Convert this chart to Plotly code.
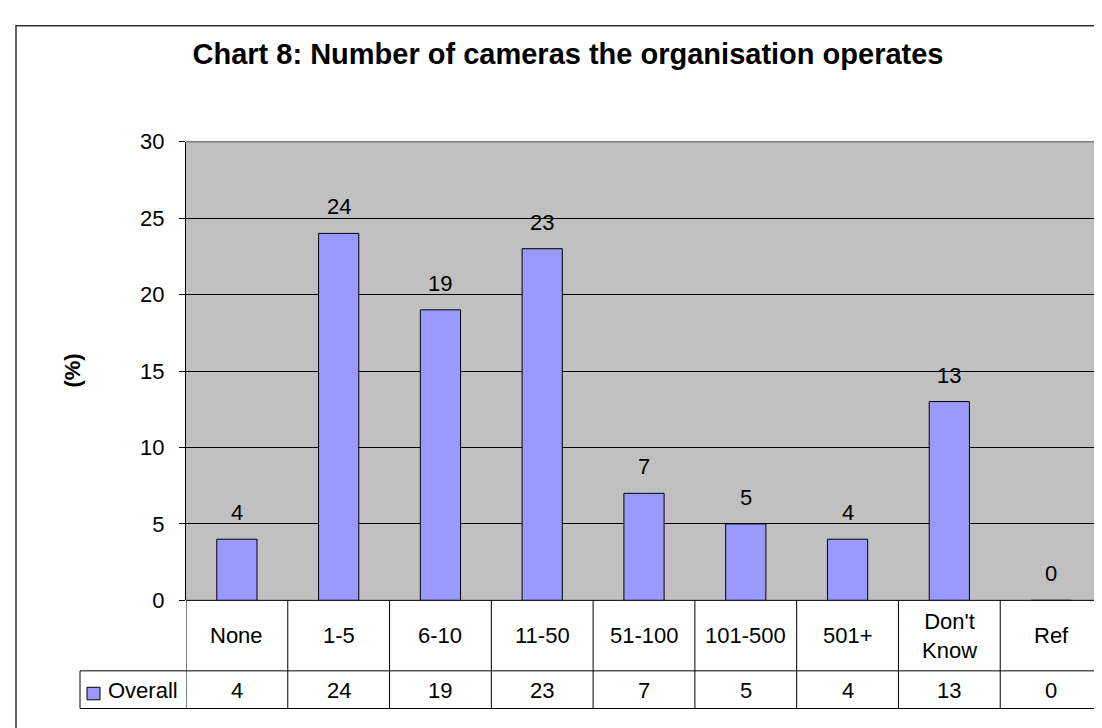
import plotly.graph_objects as go

categories = ["None", "1-5", "6-10", "11-50", "51-100", "101-500", "501+", "Don't Know", "Ref"]
header_labels = ["None", "1-5", "6-10", "11-50", "51-100", "101-500", "501+", "Don't<br>Know", "Ref"]
overall = [4, 24, 19, 23, 7, 5, 4, 13, 0]
series_name = "Overall"
y_ticks = [0, 5, 10, 15, 20, 25, 30]

W, H = 1102, 728
FONT = "Liberation Sans, Arial, sans-serif"
BAR = "#9999FF"
FS = 22

# pixel layout of the plot area and data table
PL, PR, PT, PB = 178, 1094, 126, 601
ROW1, ROW2 = 674, 713
LEG_L = 72


def px(x):
    return x / W


def py(y):
    return 1 - y / H


fig = go.Figure()

fig.add_trace(go.Bar(
    x=categories,
    y=overall,
    name=series_name,
    width=0.395,
    marker=dict(color=BAR, line=dict(color="black", width=1)),
    hoverinfo="x+y",
))

annotations = []

# value labels above bars
for cat, v in zip(categories, overall):
    annotations.append(dict(
        x=cat, y=v, xref="x", yref="y", text=str(v), showarrow=False,
        yanchor="bottom", yshift=12, font=dict(size=FS, color="black")
    ))

# table header + value rows
for cat, lab, v in zip(categories, header_labels, overall):
    annotations.append(dict(
        x=cat, y=py((PB + ROW1) / 2), xref="x", yref="paper", text=lab,
        showarrow=False, yanchor="middle", font=dict(size=FS, color="black")
    ))
    annotations.append(dict(
        x=cat, y=py((ROW1 + ROW2) / 2 + 1), xref="x", yref="paper", text=str(v),
        showarrow=False, yanchor="middle", font=dict(size=FS, color="black")
    ))

annotations.append(dict(
    x=px(98), y=py((ROW1 + ROW2) / 2 + 1), xref="paper", yref="paper",
    text=series_name, showarrow=False, xanchor="left", yanchor="middle",
    font=dict(size=FS, color="black")
))

# y axis title
annotations.append(dict(
    x=px(50), y=py((PT + PB) / 2), xref="paper", yref="paper", text="<b>(%)</b>",
    showarrow=False, textangle=-90, font=dict(size=FS, color="black")
))

shapes = []
line_col = "black"
# outer chart border (right/bottom fall outside the picture)
shapes.append(dict(type="rect", xref="paper", yref="paper", x0=px(8), x1=px(1110),
                   y0=py(6), y1=py(740), line=dict(color="#333333", width=1.5)))
# plot area border (grey top / right)
shapes.append(dict(type="line", xref="paper", yref="paper", x0=px(PL), x1=px(PR),
                   y0=py(PT), y1=py(PT), line=dict(color="#808080", width=1.5)))
shapes.append(dict(type="line", xref="paper", yref="paper", x0=px(PR), x1=px(PR),
                   y0=py(PT), y1=py(PB), line=dict(color="#808080", width=1.5)))
# table horizontals
for y, x0 in [(PB, PL), (ROW1, LEG_L), (ROW2, LEG_L)]:
    shapes.append(dict(type="line", xref="paper", yref="paper", x0=px(x0), x1=px(PR),
                       y0=py(y), y1=py(y), line=dict(color=line_col, width=1)))
# table verticals at category boundaries
for i in range(len(categories) + 1):
    shapes.append(dict(type="line", xref="x", yref="paper", x0=i - 0.5, x1=i - 0.5,
                       y0=py(PB), y1=py(ROW2), line=dict(color=line_col, width=1)))
shapes.append(dict(type="line", xref="paper", yref="paper", x0=px(LEG_L), x1=px(LEG_L),
                   y0=py(ROW1), y1=py(ROW2), line=dict(color=line_col, width=1)))
# legend key
shapes.append(dict(type="rect", xref="paper", yref="paper", x0=px(79), x1=px(92),
                   y0=py(691), y1=py(704), fillcolor=BAR, line=dict(color="black", width=1)))

fig.update_layout(
    width=W, height=H,
    margin=dict(l=0, r=0, t=0, b=0),
    paper_bgcolor="white",
    plot_bgcolor="#C0C0C0",
    showlegend=False,
    font=dict(family=FONT, color="black", size=FS),
    title=dict(
        text="<b>Chart 8: Number of cameras the organisation operates</b>",
        x=px(560), xanchor="center", y=py(46), yanchor="middle",
        font=dict(size=29, family=FONT, color="black"),
    ),
    xaxis=dict(
        domain=[px(PL), px(PR)], showticklabels=False, ticks="",
        showgrid=False, zeroline=False, showline=False,
        range=[-0.5, len(categories) - 0.5], fixedrange=True,
    ),
    yaxis=dict(
        domain=[py(PB), py(PT)], range=[0, 30], tickvals=y_ticks,
        ticks="outside", ticklen=6, tickcolor="black", ticklabelstandoff=10,
        showline=True, linecolor="black", linewidth=1,
        showgrid=True, gridcolor="black", gridwidth=1,
        zeroline=False, tickfont=dict(size=FS), fixedrange=True,
    ),
    bargap=0.6,
    annotations=annotations,
    shapes=shapes,
)

fig.write_html("out.html", config={"displayModeBar": False})
